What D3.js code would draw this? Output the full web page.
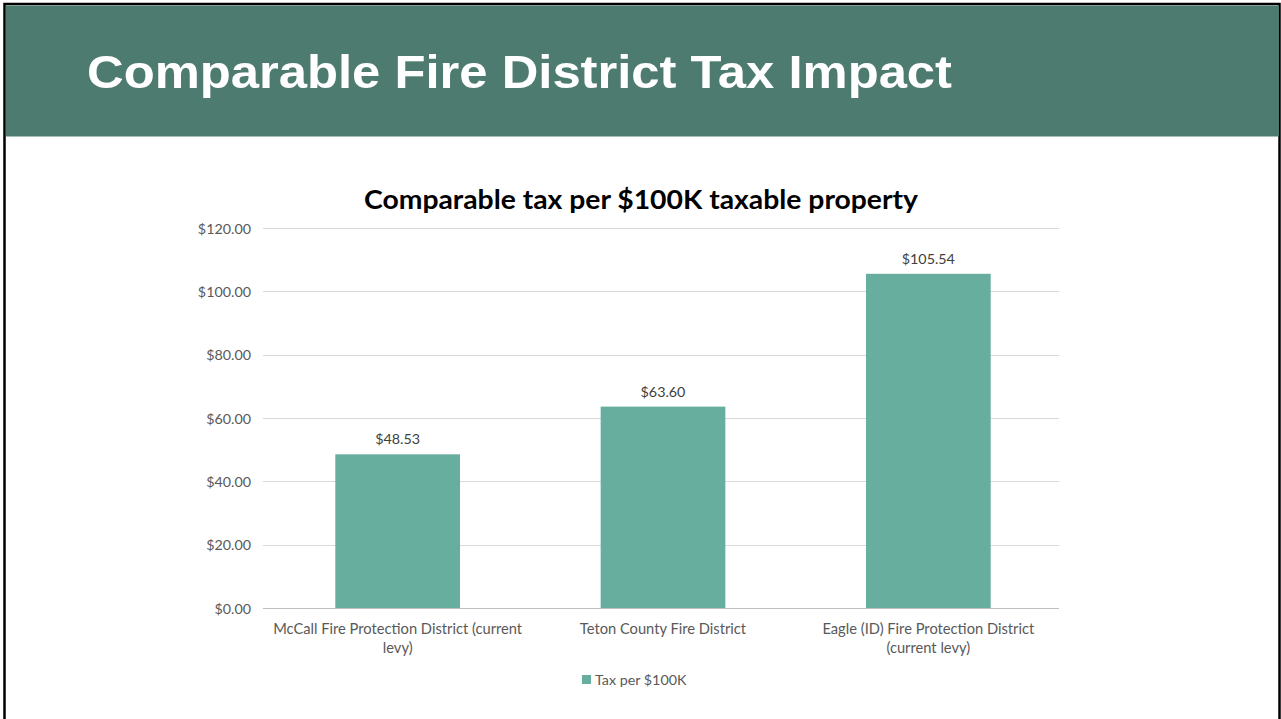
<!DOCTYPE html>
<html><head><meta charset="utf-8">
<script src="https://cdn.jsdelivr.net/npm/d3@7/dist/d3.min.js"></script>
<style>
html,body{margin:0;padding:0;background:#fff;}
svg{display:block;}
</style></head>
<body><svg id="c" width="1281" height="719"></svg>
<script>
const slideTitle = "Comparable Fire District Tax Impact";
const chartTitle = "Comparable tax per $100K taxable property";
const categories = [
  ["McCall Fire Protection District (current", "levy)"],
  ["Teton County Fire District"],
  ["Eagle (ID) Fire Protection District", "(current levy)"]
];
const values = [48.53, 63.60, 105.54];
const valueLabels = ["$48.53", "$63.60", "$105.54"];
const yTicks = [0, 20, 40, 60, 80, 100, 120];
const seriesName = "Tax per $100K";

const svg = d3.select("#c");
const W = 1281, H = 719;
svg.append("rect").attr("x",0).attr("y",0).attr("width",W).attr("height",H).attr("fill","#fff");
svg.append("rect").attr("x",4.5).attr("y",4).attr("width",1275).attr("height",730)
  .attr("fill","none").attr("stroke","#000").attr("stroke-width",2.5);
svg.append("rect").attr("x",6).attr("y",5.5).attr("width",1273).attr("height",131).attr("fill","#4E7B70");
svg.append("text").attr("x",87).attr("y",88).attr("fill","#fff")
  .attr("font-family","'Liberation Sans', Arial, sans-serif").attr("font-weight","bold")
  .attr("font-size",47).attr("textLength",865).attr("lengthAdjust","spacingAndGlyphs").text(slideTitle);

const font = "Lato, 'Open Sans', sans-serif";
const x0 = 265, x1 = 1061, yTop = 228, yBot = 608;
const x = d3.scaleBand().domain(d3.range(values.length)).range([x0,x1]).paddingInner(0.53).paddingOuter(0.265);
const y = d3.scaleLinear().domain([0,120]).range([yBot,yTop]);

svg.append("text").attr("x",641).attr("y",209).attr("text-anchor","middle")
  .attr("font-family",font).attr("font-weight","bold").attr("font-size",26).attr("fill","#000")
  .attr("textLength",554).attr("lengthAdjust","spacingAndGlyphs").text(chartTitle);

svg.append("g").selectAll("line").data(yTicks).join("line")
  .attr("x1",263).attr("x2",1059).attr("y1",d=>Math.round(y(d))+0.5).attr("y2",d=>Math.round(y(d))+0.5)
  .attr("stroke",d=>d===0?"#BFBFBF":"#D9D9D9").attr("stroke-width",1);

const yAxis = d3.axisLeft(y).tickValues(yTicks).tickFormat(d=>"$"+d3.format(".2f")(d)).tickSize(0).tickPadding(0);
const ga = svg.append("g").attr("transform",`translate(251,0)`).call(yAxis);
ga.select(".domain").remove();
ga.selectAll("text").attr("font-family",font).attr("font-size",14.3).attr("fill","#595959").attr("dy","0.35em");

svg.append("g").selectAll("rect").data(values).join("rect")
  .attr("x",(d,i)=>x(i)).attr("width",x.bandwidth())
  .attr("y",d=>y(d)).attr("height",d=>y(0)-y(d)).attr("fill","#67AE9F");

svg.append("g").selectAll("text").data(values).join("text")
  .attr("x",(d,i)=>x(i)+x.bandwidth()/2).attr("y",d=>y(d)-10).attr("text-anchor","middle")
  .attr("font-family",font).attr("font-size",14.3).attr("fill","#404040").text((d,i)=>valueLabels[i]);

const cg = svg.append("g");
categories.forEach((lines,i)=>{
  const t = cg.append("text").attr("text-anchor","middle").attr("font-family",font).attr("font-size",14.7).attr("fill","#595959");
  lines.forEach((l,j)=>{
    t.append("tspan").attr("x",x(i)+x.bandwidth()/2).attr("y",634+j*19).text(l);
  });
});

svg.append("rect").attr("x",582).attr("y",675).attr("width",9).attr("height",9).attr("fill","#67AE9F");
svg.append("text").attr("x",595).attr("y",685).attr("font-family",font).attr("font-size",14.3).attr("fill","#595959").text(seriesName);
</script></body></html>
